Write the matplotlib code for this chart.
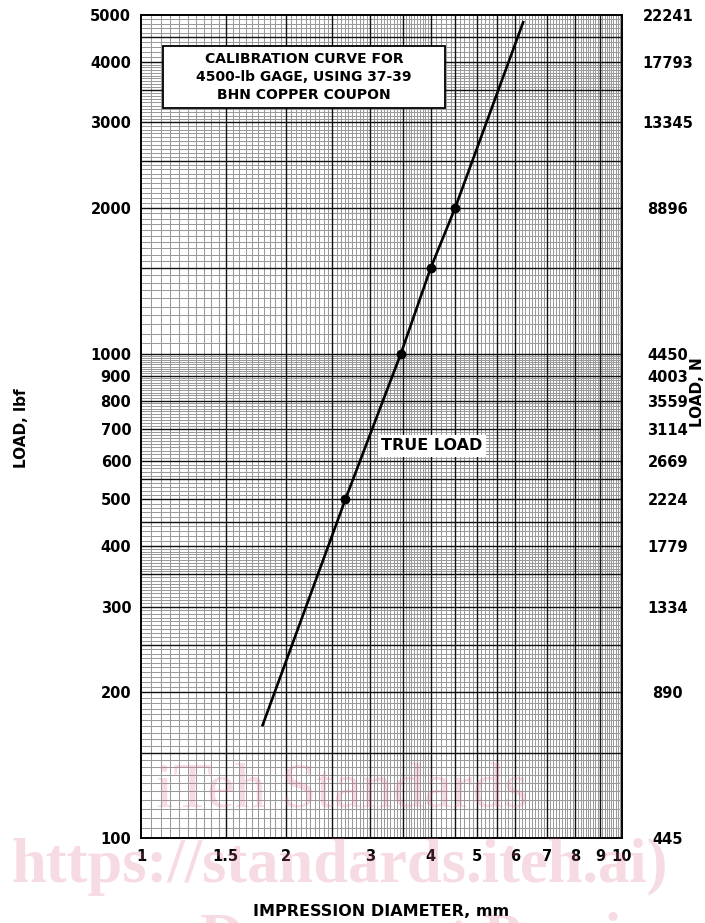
import numpy as np
import matplotlib.pyplot as plt
from matplotlib.ticker import NullLocator
from matplotlib.patches import Rectangle

plt.rcParams['font.family'] = ['DejaVu Sans']
plt.rcParams['font.weight'] = 'bold'

# curve (impression diameter mm, load lbf)
diameter_mm = [1.79, 2.66, 3.47, 4.0, 4.5, 6.23]
load_lbf = [171, 500, 1000, 1500, 2000, 4830]
# calibration points marked with dots
point_mm = [2.66, 3.47, 4.0, 4.5]
point_lbf = [500, 1000, 1500, 2000]

x_ticks = [1, 1.5, 2, 3, 4, 5, 6, 7, 8, 9, 10]
x_labels = ['1', '1.5', '2', '3', '4', '5', '6', '7', '8', '9', '10']
y_ticks = [100, 200, 300, 400, 500, 600, 700, 800, 900, 1000, 2000, 3000, 4000, 5000]
y_labels = ['100', '200', '300', '400', '500', '600', '700', '800', '900',
            '1000', '2000', '3000', '4000', '5000']
n_labels = ['445', '890', '1334', '1779', '2224', '2669', '3114', '3559', '4003',
            '4450', '8896', '13345', '17793', '22241']

# log paper rulings per decade
heavy_m = np.array([1, 1.5, 2, 2.5, 3, 3.5, 4, 4.5, 5, 5.5, 6, 7, 8, 9])
light_m = np.concatenate([np.arange(1, 4, 0.05), np.arange(4, 10, 0.1)])

W, H = 705, 923
fig = plt.figure(figsize=(W / 100, H / 100), dpi=100)
ax = fig.add_axes([141 / W, (H - 838) / H, 481 / W, 823 / H])
ax.set_xscale('log')
ax.set_yscale('log')
ax.set_xlim(1, 10)
ax.set_ylim(100, 5000)

def rulings(m, decades, lo, hi):
    v = np.concatenate([m * d for d in decades])
    return v[(v > lo * 1.0001) & (v < hi * 0.9999)]

xt = ax.get_xaxis_transform()
yt = ax.get_yaxis_transform()
ax.vlines(rulings(light_m, [1], 1, 10), 0, 1, transform=xt, color='#9a9a9a', lw=0.75, zorder=1)
ax.hlines(rulings(light_m, [100, 1000], 100, 5000), 0, 1, transform=yt, color='#9a9a9a', lw=0.75, zorder=1)
ax.vlines(rulings(heavy_m, [1], 1, 10), 0, 1, transform=xt, color='#111111', lw=1.0, zorder=2)
ax.hlines(rulings(heavy_m, [100, 1000], 100, 5000), 0, 1, transform=yt, color='#111111', lw=1.0, zorder=2)

ax.plot(diameter_mm, load_lbf, color='black', lw=1.9, zorder=5)
ax.plot(point_mm, point_lbf, 'o', color='black', ms=6, zorder=6)

for s in ax.spines.values():
    s.set_linewidth(1.4)

ax.xaxis.set_minor_locator(NullLocator())
ax.yaxis.set_minor_locator(NullLocator())
ax.set_xticks(x_ticks)
ax.set_xticklabels(x_labels)
ax.set_yticks(y_ticks)
ax.set_yticklabels(y_labels)
ax.tick_params(axis='x', length=0, pad=8, labelsize=10.5)
ax.tick_params(axis='y', length=0, pad=7, labelsize=10.5)

ax2 = ax.twinx()
ax2.set_yscale('log')
ax2.set_ylim(100, 5000)
ax2.yaxis.set_minor_locator(NullLocator())
ax2.set_yticks(y_ticks)
ax2.set_yticklabels(n_labels)
ax2.tick_params(axis='y', length=0, pad=33, labelsize=10.5)
for lab in ax2.get_yticklabels():
    lab.set_horizontalalignment('center')
for s in ax2.spines.values():
    s.set_visible(False)

# title box
ax.add_patch(Rectangle((22 / 481, (838 - 108) / 823), 282 / 481, 62 / 823,
                       transform=ax.transAxes, facecolor='white', edgecolor='black',
                       lw=1.3, zorder=4))
ax.text(163 / 481, (838 - 77) / 823,
        'CALIBRATION CURVE FOR\n4500-lb GAGE, USING 37-39\nBHN COPPER COUPON',
        transform=ax.transAxes, ha='center', va='center', fontsize=10,
        linespacing=1.35, zorder=5)
ax.text(291 / 481, (838 - 446) / 823, 'TRUE LOAD', transform=ax.transAxes,
        ha='center', va='center', fontsize=11.5, zorder=5,
        bbox=dict(facecolor='white', edgecolor='none', pad=2.5))

fig.text(22 / W, 1 - 428 / H, 'LOAD, lbf', rotation=90, ha='center', va='center', fontsize=11)
fig.text(697 / W, 1 - 392 / H, 'LOAD, N', rotation=90, ha='center', va='center', fontsize=11)
fig.text(381 / W, 1 - 912 / H, 'IMPRESSION DIAMETER, mm', ha='center', va='center', fontsize=11.5)

# watermark
wm = dict(color='#e06a8e', alpha=0.24, family='Liberation Serif', zorder=10)
fig.text(342 / W, 1 - 807 / H, 'iTeh Standards', ha='center', va='baseline',
         fontsize=45, weight='normal', **wm)
fig.text(340 / W, 1 - 882 / H, 'https://standards.iteh.ai)', ha='center', va='baseline',
         fontsize=45, weight='bold', **wm)
fig.text(200 / W, 1 - 955 / H, 'Document Preview', ha='left', va='baseline',
         fontsize=44, weight='bold', **wm)

fig.savefig('out.png', dpi=100)
